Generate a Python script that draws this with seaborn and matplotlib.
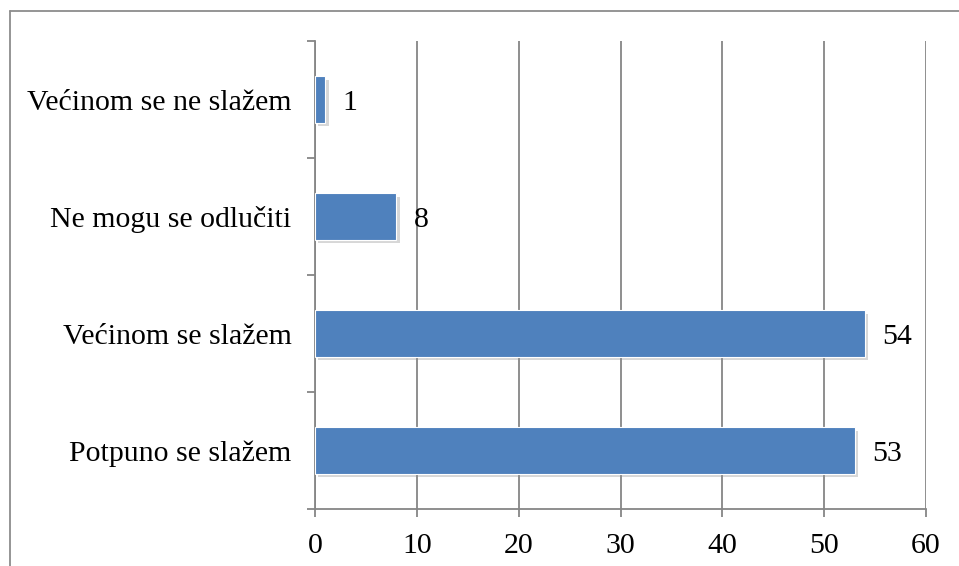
import matplotlib
matplotlib.use("Agg")
import matplotlib.pyplot as plt
import matplotlib.patheffects as pe
from matplotlib.lines import Line2D
import seaborn as sns
import pandas as pd

categories = ["Većinom se ne slažem", "Ne mogu se odlučiti", "Većinom se slažem", "Potpuno se slažem"]
values = [1, 8, 54, 53]
x_ticks = [0, 10, 20, 30, 40, 50, 60]

sns.set_theme(style="white")
plt.rcParams['font.family'] = ['Liberation Serif', 'DejaVu Serif']

df = pd.DataFrame({"cat": categories, "val": values})

fig = plt.figure(figsize=(9.59, 5.66), dpi=100)
ax = fig.add_axes([315/959, 57/566, (926-315)/959, (509-41)/566])

sns.barplot(data=df, x="val", y="cat", orient="h", color="#4F81BD", saturation=1,
            width=0.4, ax=ax, zorder=3, edgecolor="white", linewidth=0.8)

for p in ax.patches:
    p.set_path_effects([pe.SimplePatchShadow(offset=(2.5, -2.5), shadow_rgbFace="#8f8f8f", alpha=0.35),
                        pe.Normal()])

grey = "#868686"
fs = 21.5
ax.set_xlim(0, 60)
ax.set_ylim(3.5, -0.5)
ax.set_xticks(x_ticks)
ax.set_xticklabels([str(t) for t in x_ticks])
ax.xaxis.grid(True, color=grey, linewidth=1.3, zorder=0)
ax.set_axisbelow(True)
ax.set_yticks([0, 1, 2, 3])
ax.set_yticklabels(categories)
ax.set_yticks([-0.5, 0.5, 1.5, 2.5, 3.5], minor=True)
ax.tick_params(axis="y", which="major", length=0, pad=17, labelsize=fs, colors="black")
ax.tick_params(axis="y", which="minor", length=6, width=1.3, color=grey, left=True)
ax.tick_params(axis="x", which="major", length=6, width=1.3, color=grey, bottom=True,
               labelsize=fs, pad=11, labelcolor="black")
ax.set_xlabel("")
ax.set_ylabel("")
for s in ["top", "right"]:
    ax.spines[s].set_visible(False)
for s in ["left", "bottom"]:
    ax.spines[s].set_color(grey)
    ax.spines[s].set_linewidth(1.3)

for i, v in enumerate(values):
    ax.annotate(str(v), xy=(v, i), xytext=(12.5, -2.5), textcoords="offset points",
                ha="left", va="center", fontsize=fs, color="black")

# outer frame (top and left edges visible)
fig.add_artist(Line2D([10/959, 10/959], [0, 1 - 11/566], transform=fig.transFigure, color="#8c8c8c", lw=1.3))
fig.add_artist(Line2D([10/959, 1], [1 - 11/566, 1 - 11/566], transform=fig.transFigure, color="#8c8c8c", lw=1.3))

fig.savefig("out.png", dpi=100)
